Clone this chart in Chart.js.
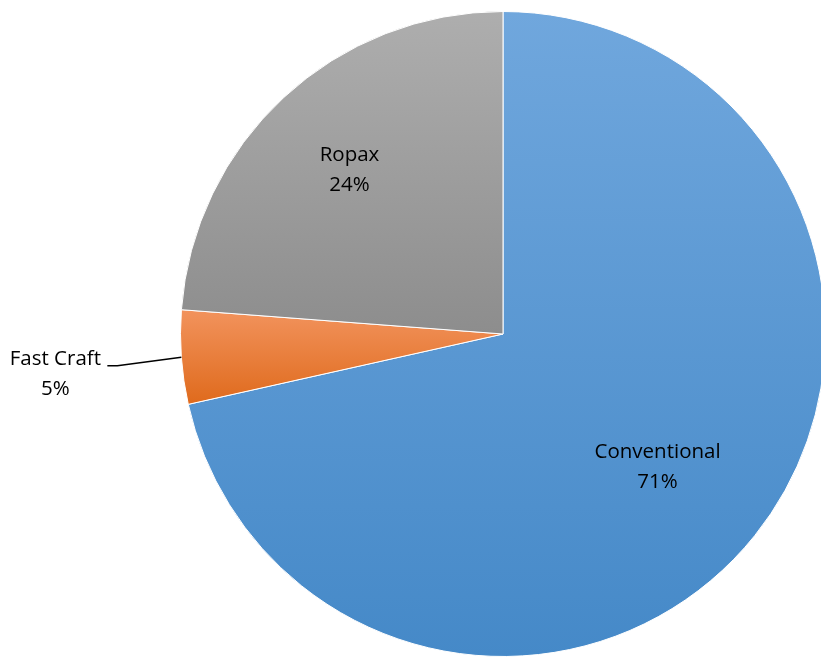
<!DOCTYPE html>
<html>
<head>
<meta charset="utf-8">
<script src="https://cdn.jsdelivr.net/npm/chart.js@4.4.1/dist/chart.umd.min.js"></script>
<style>
  html, body { margin: 0; padding: 0; background: #fff; overflow: hidden; }
  #pieChart { display: block; }
</style>
</head>
<body>
<canvas id="pieChart" width="832" height="657"></canvas>
<script>
// shares
const categories = ['Conventional', 'Fast Craft', 'Ropax'];
const shares = [71.5, 4.7, 23.8];
const shareLabels = ['71%', '5%', '24%'];

// top / bottom gradient colours for each slice
const topColors = ['#70a7dd', '#f2935d', '#aeaeae'];
const bottomColors = ['#4589c8', '#df6a1c', '#8d8d8d'];

const total = shares.reduce((a, b) => a + b, 0);

// vertical gradient spanning the slice's own bounding box
const sliceGradient = (ctx) => {
    const chart = ctx.chart;
    const area = chart.chartArea;
    const i = ctx.dataIndex;
    if (!area) return topColors[i];
    const cx = (area.left + area.right) / 2;
    const cy = (area.top + area.bottom) / 2;
    const r = Math.min(area.right - area.left, area.bottom - area.top) / 2;
    let start = -Math.PI / 2;
    for (let k = 0; k < i; k++) start += shares[k] / total * Math.PI * 2;
    const end = start + shares[i] / total * Math.PI * 2;
    const ys = [cy, cy + r * Math.sin(start), cy + r * Math.sin(end)];
    if (start < Math.PI / 2 && end > Math.PI / 2) ys.push(cy + r);
    if (start < Math.PI * 1.5 && end > Math.PI * 1.5) ys.push(cy - r);
    const g = chart.ctx.createLinearGradient(0, Math.min(...ys), 0, Math.max(...ys));
    g.addColorStop(0, topColors[i]);
    g.addColorStop(1, bottomColors[i]);
    return g;
};

const labelPlugin = {
    id: 'sliceLabels',
    afterDatasetsDraw(chart) {
        const ctx = chart.ctx;
        const arcs = chart.getDatasetMeta(0).data;
        ctx.save();
        ctx.font = '20.5px "Open Sans", sans-serif';
        ctx.fillStyle = '#000';
        ctx.textAlign = 'center';
        ctx.textBaseline = 'middle';
        arcs.forEach((arc, i) => {
            const mid = (arc.startAngle + arc.endAngle) / 2;
            const cos = Math.cos(mid), sin = Math.sin(mid);
            if (categories[i] === 'Fast Craft') {
                // outside label with leader line
                const ex = arc.x + arc.outerRadius * cos;
                const ey = arc.y + arc.outerRadius * sin;
                const kx = ex - 64, ky = ey + 8.5;
                ctx.strokeStyle = '#000';
                ctx.lineWidth = 1.5;
                ctx.beginPath();
                ctx.moveTo(ex, ey);
                ctx.lineTo(kx, ky);
                ctx.lineTo(kx - 10, ky);
                ctx.stroke();
                ctx.fillText(categories[i], kx - 62, ky - 7);
                ctx.fillText(shareLabels[i], kx - 62, ky + 23);
            } else {
                const f = i === 0 ? 0.63 : 0.70;
                const nudge = i === 0 ? [-4, 6] : [0, 2];
                const x = arc.x + arc.outerRadius * f * cos + nudge[0];
                const y = arc.y + arc.outerRadius * f * sin + nudge[1];
                ctx.fillText(categories[i], x, y - 15);
                ctx.fillText(shareLabels[i], x, y + 15);
            }
        });
        ctx.restore();
    }
};

new Chart(document.getElementById('pieChart').getContext('2d'), {
    type: 'pie',
    data: {
        labels: categories,
        datasets: [{
            data: shares,
            backgroundColor: sliceGradient,
            borderColor: '#ffffff',
            borderWidth: 1
        }]
    },
    options: {
        responsive: false,
        animation: false,
        layout: { padding: { top: 11, bottom: 0, left: 180, right: 6 } },
        plugins: {
            legend: { display: false },
            tooltip: { enabled: false }
        }
    },
    plugins: [labelPlugin]
});
</script>
</body>
</html>
